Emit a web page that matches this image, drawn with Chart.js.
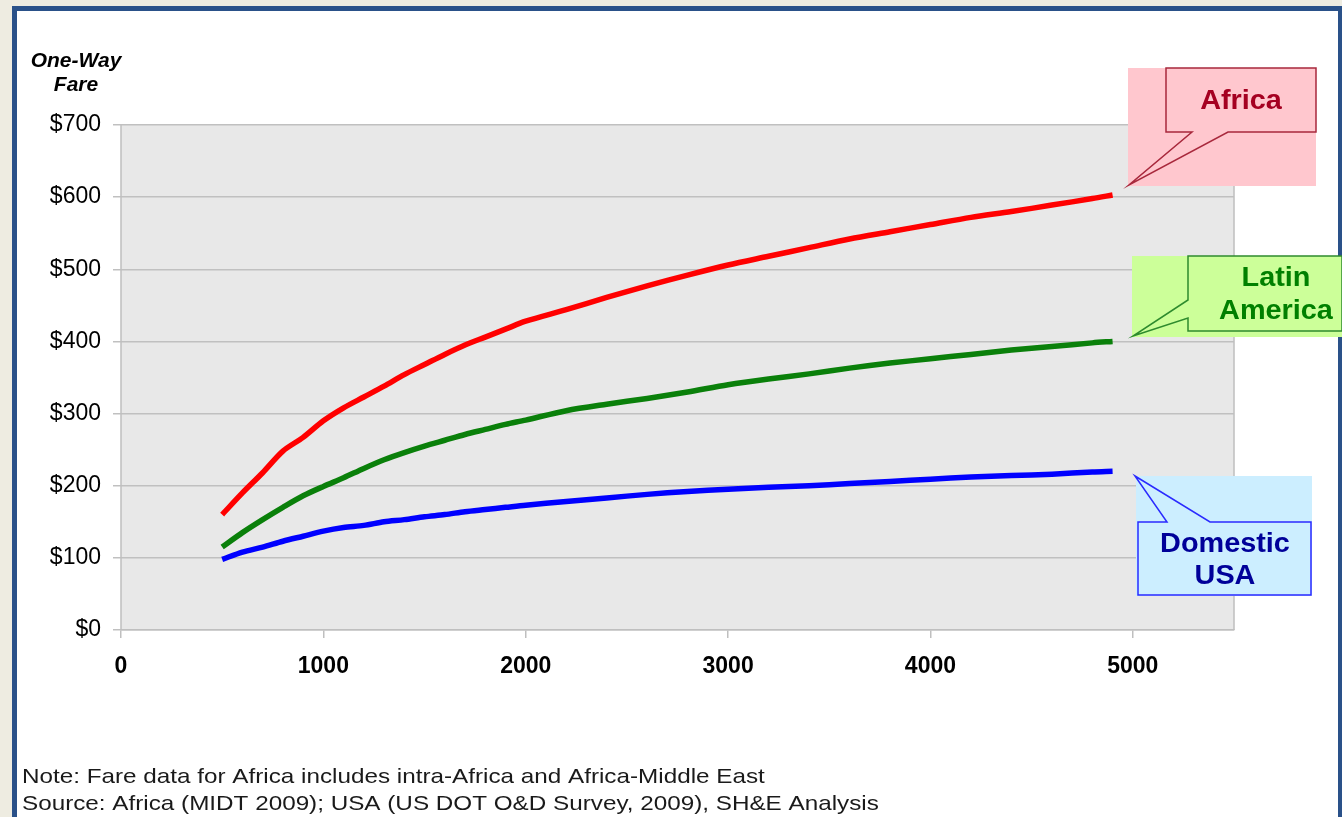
<!DOCTYPE html>
<html>
<head>
<meta charset="utf-8">
<script src="https://cdn.jsdelivr.net/npm/chart.js@4/dist/chart.umd.min.js"></script>
<style>
  html, body { margin: 0; padding: 0; background: #eeece1; }
  canvas { display: block; }
</style>
</head>
<body>
<canvas id="chart" width="1342" height="817"></canvas>
<script>
// stage length (miles)
const distances = [500, 600, 700, 800, 900, 1000, 1100, 1200, 1300, 1400, 1500, 1600, 1700, 1800, 1900, 2000,
  2200, 2400, 2600, 2800, 3000, 3200, 3400, 3600, 3800, 4000, 4200, 4400, 4600, 4800, 4900]

const africa = [160, 190, 218, 248, 267, 290, 308, 323, 338, 354, 368, 382, 395, 406, 417, 428,
  444, 461, 477, 492, 506, 518, 530, 542, 552, 562, 572, 580, 589, 598, 603]
const latinAmerica = [115, 135, 153, 170, 186, 199, 211, 224, 236, 246, 255, 263, 271, 278, 285, 291,
  304, 313, 321, 330, 340, 348, 355, 363, 370, 376, 382, 388, 393, 398, 400]
const domesticUsa = [98, 108, 115, 123, 130, 137, 142, 145, 150, 153, 157, 160, 164, 167, 170, 173,
  178, 183, 188, 192, 195, 198, 200, 203, 206, 209, 212, 214, 216, 219, 220]

const xTicks = [0, 1000, 2000, 3000, 4000, 5000]
const yTicks = [0, 100, 200, 300, 400, 500, 600, 700]

const FONT = "'Liberation Sans', Arial, sans-serif"
Chart.defaults.font.family = FONT

const toPoints = (vals) => vals.map((v, i) => ({ x: distances[i], y: v }))

// text drawn a little wider, like the original export
const wideText = (ctx, txt, x, y, sx) => {
  ctx.save()
  ctx.translate(x, y)
  ctx.scale(sx, 1)
  ctx.fillText(txt, 0, 0)
  ctx.restore()
}

const frame = {
  id: "frame",
  beforeDraw(chart) {
    const ctx = chart.ctx
    const a = chart.chartArea
    ctx.save()
    ctx.fillStyle = "#eeece1"
    ctx.fillRect(0, 0, 1342, 817)
    ctx.fillStyle = "#2a5189"
    ctx.fillRect(12, 6, 1342, 817)
    ctx.fillStyle = "#ffffff"
    ctx.fillRect(17, 11, 1321, 817)
    ctx.fillStyle = "#e8e8e8"
    ctx.fillRect(a.left, a.top, a.right - a.left, a.bottom - a.top)
    ctx.restore()
  },
  afterDraw(chart) {
    const ctx = chart.ctx
    const a = chart.chartArea
    ctx.save()
    ctx.strokeStyle = "#bfbfbf"
    ctx.lineWidth = 1.5
    ctx.beginPath()
    ctx.moveTo(a.right, a.top)
    ctx.lineTo(a.right, a.bottom)
    ctx.moveTo(a.left, a.top)
    ctx.lineTo(a.left, a.bottom)
    ctx.stroke()

    // axis title
    ctx.fillStyle = "#000"
    ctx.textAlign = "center"
    ctx.textBaseline = "middle"
    ctx.font = "italic bold 20px " + FONT
    wideText(ctx, "One-Way", 76, 61, 1.05)
    wideText(ctx, "Fare", 76, 85, 1.05)

    // notes
    ctx.textAlign = "left"
    ctx.font = "21px " + FONT
    ctx.fillStyle = "#1a1a1a"
    wideText(ctx, "Note: Fare data for Africa includes intra-Africa and Africa-Middle East", 22, 777, 1.155)
    wideText(ctx, "Source: Africa (MIDT 2009); USA (US DOT O&D Survey, 2009), SH&E Analysis", 22, 804, 1.155)

    // callouts
    const callout = (bg, box, tail, stroke, fill, lines, cx, ys) => {
      ctx.fillStyle = bg
      ctx.fillRect(box[0], box[1], box[2] - box[0], box[3] - box[1])
      ctx.strokeStyle = stroke
      ctx.lineWidth = 1.5
      ctx.beginPath()
      tail.forEach((p, i) => (i ? ctx.lineTo(p[0], p[1]) : ctx.moveTo(p[0], p[1])))
      ctx.closePath()
      ctx.stroke()
      ctx.fillStyle = fill
      ctx.font = "bold 28px " + FONT
      ctx.textAlign = "center"
      lines.forEach((t, i) => wideText(ctx, t, cx, ys[i], 1.03))
    }
    callout("#ffc7ce", [1128, 68, 1316, 186],
      [[1166, 68], [1316, 68], [1316, 132], [1228, 132], [1129, 185], [1192, 132], [1166, 132]],
      "#a8283c", "#a50021", ["Africa"], 1241, [101])
    callout("#ccff99", [1132, 256, 1342, 337],
      [[1188, 256], [1342, 256], [1342, 331], [1188, 331], [1188, 318], [1133, 336], [1188, 300]],
      "#2e8b2e", "#008000", ["Latin", "America"], 1276, [278, 311])
    callout("#cceeff", [1136, 476, 1312, 596],
      [[1135, 476], [1210, 522], [1311, 522], [1311, 595], [1138, 595], [1138, 522], [1167, 522]],
      "#2a2aff", "#000099", ["Domestic", "USA"], 1225, [544, 576])
    ctx.restore()
  },
}

const lineSet = (label, vals, color) => ({
  label,
  data: toPoints(vals),
  borderColor: color,
  backgroundColor: color,
  borderWidth: 5.5,
  pointRadius: 0,
  tension: 0.3,
  fill: false,
})

new Chart(document.getElementById("chart"), {
  type: "line",
  data: {
    datasets: [
      lineSet("Africa", africa, "#ff0000"),
      lineSet("Latin America", latinAmerica, "#0a800a"),
      lineSet("Domestic USA", domesticUsa, "#0000ff"),
    ],
  },
  options: {
    responsive: false,
    animation: false,
    layout: { padding: { top: 125, right: 108, left: 0, bottom: 0 } },
    plugins: { legend: { display: false }, tooltip: { enabled: false } },
    scales: {
      x: {
        type: "linear",
        min: 0,
        max: 5500,
        afterBuildTicks: (s) => { s.ticks = xTicks.map((v) => ({ value: v })) },
        afterFit: (s) => { s.height = 187 },
        grid: { drawOnChartArea: false, drawTicks: true, tickLength: 8, color: "#bfbfbf", lineWidth: 1.5 },
        border: { color: "#bfbfbf", width: 1.5 },
        ticks: { color: "#000", padding: 15, maxRotation: 0, font: { size: 23, weight: "bold" }, callback: (v) => String(v) },
      },
      y: {
        min: 0,
        max: 700,
        afterBuildTicks: (s) => { s.ticks = yTicks.map((v) => ({ value: v })) },
        afterFit: (s) => { s.width = 121 },
        grid: { color: "#c0c0c0", lineWidth: 1.5, tickLength: 8 },
        border: { display: false },
        ticks: { color: "#000", padding: 12, font: { size: 23 }, callback: (v) => "$" + v },
      },
    },
  },
  plugins: [frame],
})
</script>
</body>
</html>
